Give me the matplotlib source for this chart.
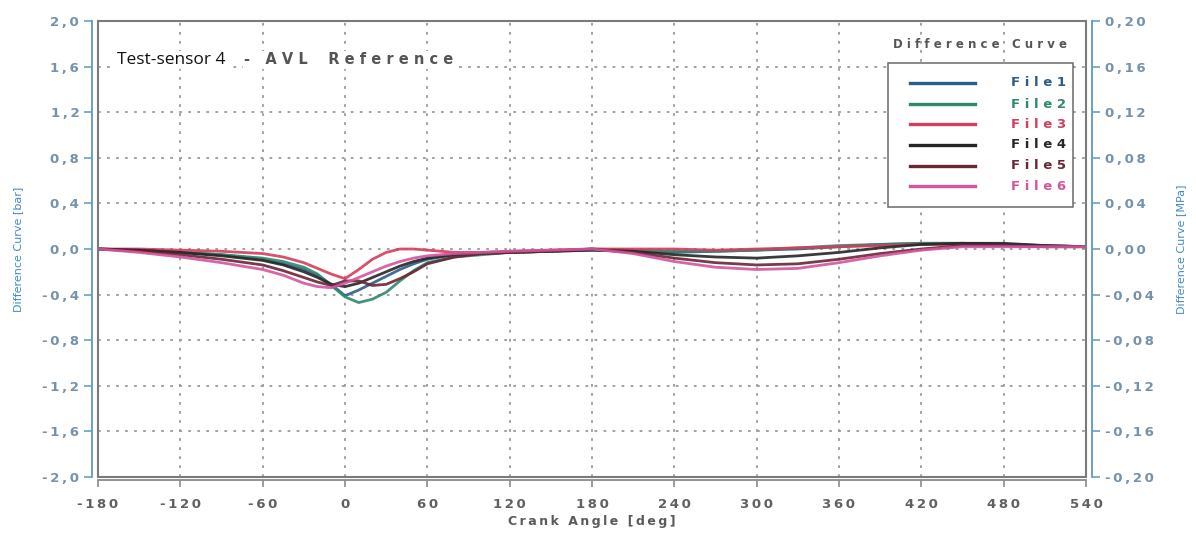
import matplotlib
matplotlib.use("Agg")
import matplotlib.pyplot as plt
from matplotlib.patches import Rectangle
from matplotlib.lines import Line2D

# ---------------- data ----------------
crank_deg = [-180, -150, -120, -90, -60, -45, -30, -20, -10, 0, 10, 20, 30, 40, 50, 60,
             80, 100, 120, 150, 180, 210, 240, 270, 300, 330, 360, 390, 420, 450, 480, 510, 540]

file1 = [0.00, -0.01, -0.03, -0.05, -0.09, -0.13, -0.18, -0.23, -0.31, -0.41, -0.36, -0.30, -0.24,
         -0.18, -0.13, -0.09, -0.05, -0.04, -0.03, -0.02, -0.01, -0.02, -0.03, -0.02, -0.01, 0.00,
         0.02, 0.04, 0.05, 0.05, 0.04, 0.03, 0.02]
file2 = [0.00, -0.01, -0.03, -0.05, -0.08, -0.11, -0.16, -0.22, -0.32, -0.42, -0.47, -0.44, -0.38,
         -0.28, -0.19, -0.12, -0.07, -0.05, -0.03, -0.02, 0.00, -0.01, -0.02, -0.02, -0.01, 0.01,
         0.03, 0.04, 0.05, 0.05, 0.04, 0.03, 0.02]
file3 = [0.00, 0.00, -0.01, -0.02, -0.04, -0.07, -0.12, -0.17, -0.22, -0.26, -0.18, -0.09, -0.03,
         0.00, 0.00, -0.01, -0.03, -0.03, -0.02, -0.01, 0.00, 0.00, 0.00, -0.01, 0.00, 0.01,
         0.02, 0.03, 0.04, 0.04, 0.03, 0.02, 0.02]
file4 = [0.00, -0.01, -0.03, -0.06, -0.10, -0.14, -0.20, -0.25, -0.31, -0.33, -0.30, -0.25, -0.20,
         -0.15, -0.11, -0.08, -0.05, -0.04, -0.03, -0.02, -0.01, -0.02, -0.05, -0.07, -0.08, -0.06,
         -0.03, 0.01, 0.04, 0.05, 0.05, 0.03, 0.02]
file5 = [0.00, -0.02, -0.05, -0.09, -0.14, -0.19, -0.25, -0.29, -0.32, -0.28, -0.28, -0.32, -0.31,
         -0.26, -0.20, -0.13, -0.07, -0.04, -0.03, -0.02, 0.00, -0.03, -0.08, -0.12, -0.14, -0.13,
         -0.09, -0.04, 0.00, 0.03, 0.03, 0.02, 0.02]
file6 = [0.00, -0.03, -0.07, -0.12, -0.18, -0.23, -0.30, -0.33, -0.34, -0.30, -0.25, -0.20, -0.15,
         -0.11, -0.08, -0.06, -0.04, -0.03, -0.02, -0.01, 0.00, -0.04, -0.11, -0.16, -0.18, -0.17,
         -0.12, -0.06, -0.01, 0.02, 0.02, 0.02, 0.02]

series_names = ["File1", "File2", "File3", "File4", "File5", "File6"]
series_values = [file1, file2, file3, file4, file5, file6]
series_colors = ["#2c5d86", "#2e8a6c", "#d63c5c", "#262626", "#6b2535", "#d2559e"]

x_ticks = [-180, -120, -60, 0, 60, 120, 180, 240, 300, 360, 420, 480, 540]
y_ticks_bar = [-2.0, -1.6, -1.2, -0.8, -0.4, 0.0, 0.4, 0.8, 1.2, 1.6, 2.0]
y_ticks_mpa = [-0.20, -0.16, -0.12, -0.08, -0.04, 0.00, 0.04, 0.08, 0.12, 0.16, 0.20]

# ---------------- helpers ----------------
TS = "\u2009"
W, H = 1196, 535


def spaced(s, sep=TS):
    return sep.join(list(s))


def fmt(v, nd):
    s = f"{v:.{nd}f}".replace(".", ",")
    if s.startswith("-") and float(s.replace(",", ".")) == 0:
        s = s[1:]
    return spaced(s)


def fx(px):
    return px / W


def fy(py):
    return 1 - py / H


# ---------------- figure ----------------
fig = plt.figure(figsize=(11.96, 5.35), dpi=100)
L, R, T, B = fx(98), fx(1086), fy(21), fy(477)
ax = fig.add_axes([L, B, R - L, T - B])

ax.set_xlim(-180, 540)
ax.set_ylim(-2.0, 2.0)

grid_kw = dict(color="#9a9a9a", lw=1.3, ls=(0, (1.5, 3.5)), zorder=1)
for xv in x_ticks[1:-1]:
    ax.axvline(xv, **grid_kw)
for yv in y_ticks_bar[1:-1]:
    ax.axhline(yv, **grid_kw)

for name, vals, col in zip(series_names, series_values, series_colors):
    ax.plot(crank_deg, vals, color=col, lw=2.0, alpha=0.9, zorder=3, solid_joinstyle="round")

# frame box
ax.add_patch(Rectangle((0, 0), 1, 1, transform=ax.transAxes, fill=False,
                       edgecolor="#7a7a7a", lw=1.5, zorder=5, clip_on=False))

blue = "#6c9fc2"
for sp in ["top", "right"]:
    ax.spines[sp].set_visible(False)
ax.spines["left"].set_position(("outward", 4.5))
ax.spines["left"].set_color(blue)
ax.spines["left"].set_linewidth(1.4)
ax.spines["bottom"].set_position(("outward", 2.2))
ax.spines["bottom"].set_color("#8a8a8a")
ax.spines["bottom"].set_linewidth(1.3)

ax.set_xticks(x_ticks)
ax.set_xticklabels([spaced(str(v)) for v in x_ticks])
ax.set_yticks(y_ticks_bar)
ax.set_yticklabels([fmt(v, 1) for v in y_ticks_bar])
ax.tick_params(axis="x", direction="out", length=5, width=1.2, color="#8a8a8a",
               labelsize=9.5, labelcolor="#606060", pad=8)
ax.tick_params(axis="y", direction="out", length=6, width=1.2, color=blue,
               labelsize=9.5, labelcolor="#7592aa", pad=3)
for lab in ax.get_xticklabels() + ax.get_yticklabels():
    lab.set_fontweight("bold")

ax.set_xlabel(spaced("Crank Angle [deg]"), fontsize=9, color="#5a5a5a",
              fontweight="bold", labelpad=3)
ax.set_ylabel("Difference Curve [bar]", fontsize=8, color="#3f8cc2", labelpad=14)

ax2 = ax.twinx()
ax2.set_ylim(-0.2, 0.2)
for sp in ["top", "left", "bottom"]:
    ax2.spines[sp].set_visible(False)
ax2.spines["right"].set_position(("outward", 4.5))
ax2.spines["right"].set_color(blue)
ax2.spines["right"].set_linewidth(1.4)
ax2.set_yticks(y_ticks_mpa)
ax2.set_yticklabels([fmt(v, 2) for v in y_ticks_mpa])
ax2.tick_params(axis="y", direction="out", length=6, width=1.2, color=blue,
                labelsize=9.5, labelcolor="#7592aa", pad=3)
for lab in ax2.get_yticklabels():
    lab.set_fontweight("bold")
ax2.set_ylabel("Difference Curve [MPa]", fontsize=8, color="#3f8cc2", labelpad=16,
               rotation=90)

# title text inside plot
fig.text(fx(117), fy(60), "Test-sensor 4", fontsize=12.5, family="Open Sans",
         color="#111111", va="center", ha="left", zorder=6,
         bbox=dict(facecolor="white", edgecolor="none", pad=1))
fig.text(fx(244), fy(60), "-   " + spaced("AVL", " ") + "    " + spaced("Reference", " "),
         fontsize=10.5, fontweight="bold", color="#555555", va="center", ha="left",
         zorder=6, bbox=dict(facecolor="white", edgecolor="none", pad=1))

# legend (drawn manually to match the layout)
fig.patches.append(Rectangle((fx(888), fy(207)), fx(1073) - fx(888), fy(63) - fy(207),
                             transform=fig.transFigure, facecolor="white",
                             edgecolor="#6a6a6a", lw=1.1, zorder=7))
row_y = [83, 104, 124, 145, 166, 186]
for name, col, ry in zip(series_names, series_colors, row_y):
    fig.add_artist(Line2D([fx(910), fx(975)], [fy(ry), fy(ry)], transform=fig.transFigure,
                          color=col, lw=2.4, zorder=8))
    fig.text(fx(1066), fy(ry), spaced(name, " "), fontsize=9.5, fontweight="bold",
             color=col, ha="right", va="center", zorder=8)

fig.text(fx(980), fy(45), spaced("Difference", " ") + "   " + spaced("Curve", " "),
         fontsize=8.5, fontweight="bold", color="#555555", ha="center", va="center")

fig.savefig("out.png", dpi=100, facecolor="white")
